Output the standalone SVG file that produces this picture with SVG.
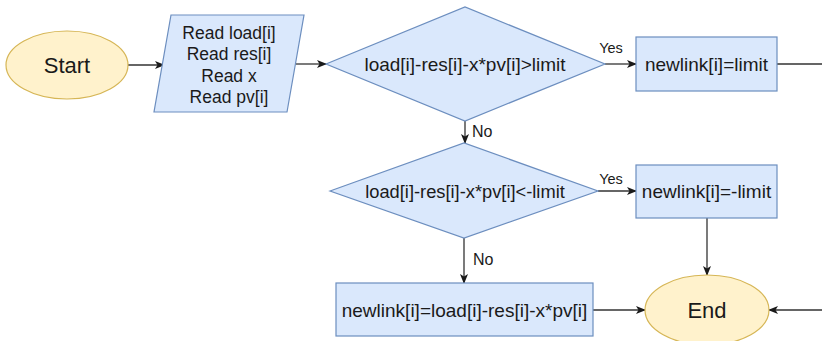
<svg xmlns="http://www.w3.org/2000/svg" width="822" height="341" viewBox="0 0 822 341">
<style>
text { font-family: "Liberation Sans", Arial, sans-serif; fill: #1a1a1a; text-anchor: middle; dominant-baseline: central; }
.term { fill: #fff2cc; stroke: #d6b656; stroke-width: 1.2; }
.proc { fill: #dae8fc; stroke: #6c8ebf; stroke-width: 1.2; }
.edge { fill: none; stroke: #333333; stroke-width: 1.3; marker-end: url(#arr); }
.lbl { font-size: 14.5px; }
</style>
<defs>
<marker id="arr" viewBox="0 0 10 8" refX="9" refY="4" markerWidth="10" markerHeight="8" markerUnits="userSpaceOnUse" orient="auto">
<path d="M0,0 L10,4 L0,8 L2.5,4 Z" fill="#1a1a1a"/>
</marker>
</defs>
<rect width="822" height="341" fill="#ffffff"/>
<g id="connectors">
<path class="edge" d="M128,65 H164"/>
<path class="edge" d="M296,64 H326"/>
<path class="edge" d="M605,64 H636"/>
<path class="edge" d="M465,121 V143"/>
<path class="edge" d="M598,191 H636"/>
<path class="edge" d="M707,218 V275"/>
<path class="edge" d="M464,238 V283"/>
<path class="edge" d="M593,310 H645"/>
<path class="edge" d="M777,64 H835 V310 H769"/>
<text class="lbl" x="611" y="48">Yes</text>
<text x="472" y="131" style="font-size:16px;text-anchor:start">No</text>
<text class="lbl" x="611" y="179">Yes</text>
<text x="473" y="259" style="font-size:16px;text-anchor:start">No</text>
</g>
<g id="start">
<ellipse class="term" cx="67" cy="65" rx="61" ry="34"/>
<text x="67" y="65" style="font-size:22px">Start</text>
</g>
<g id="read">
<polygon class="proc" points="171,15 304,15 287,112 154,112"/>
<text x="229" y="33" style="font-size:17.5px">Read load[i]</text>
<text x="229" y="54" style="font-size:17.5px">Read res[i]</text>
<text x="229" y="76" style="font-size:17.5px">Read x</text>
<text x="229" y="97" style="font-size:17.5px">Read pv[i]</text>
</g>
<g id="dec1">
<polygon class="proc" points="326,64 465,7 605,64 465,121"/>
<text x="465" y="64" style="font-size:19px">load[i]-res[i]-x*pv[i]&gt;limit</text>
</g>
<g id="set-limit">
<rect class="proc" x="636" y="37" width="141" height="54"/>
<text x="706.5" y="64" style="font-size:19px">newlink[i]=limit</text>
</g>
<g id="dec2">
<polygon class="proc" points="330,191 464,143 598,191 464,238"/>
<text x="465" y="191" style="font-size:18.3px">load[i]-res[i]-x*pv[i]&lt;-limit</text>
</g>
<g id="set-neg-limit">
<rect class="proc" x="636" y="165" width="141" height="53"/>
<text x="706.5" y="191" style="font-size:19px">newlink[i]=-limit</text>
</g>
<g id="set-value">
<rect class="proc" x="336" y="283" width="257" height="53"/>
<text x="464.5" y="310" style="font-size:19px">newlink[i]=load[i]-res[i]-x*pv[i]</text>
</g>
<g id="end">
<ellipse class="term" cx="707" cy="310" rx="62" ry="35"/>
<text x="707" y="310" style="font-size:22px">End</text>
</g>
</svg>
